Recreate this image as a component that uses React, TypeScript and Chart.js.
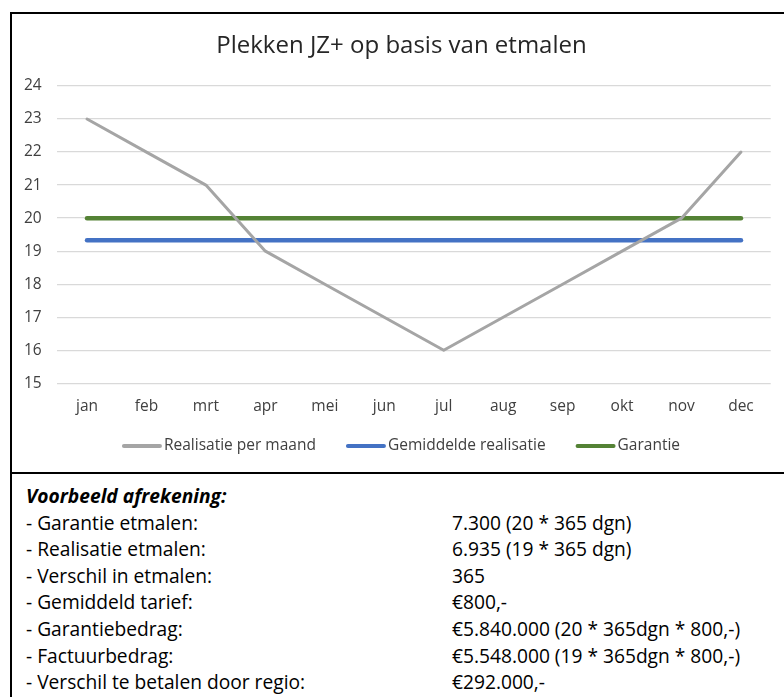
import React, { useEffect, useRef } from "react";
import { Chart, registerables } from "chart.js";

Chart.register(...registerables);

const TITLE = "Plekken JZ+ op basis van etmalen";
const months = ["jan", "feb", "mrt", "apr", "mei", "jun", "jul", "aug", "sep", "okt", "nov", "dec"];
const realisatie = [23, 22, 21, 19, 18, 17, 16, 17, 18, 19, 20, 22];
const gemiddelde = [19.33, 19.33, 19.33, 19.33, 19.33, 19.33, 19.33, 19.33, 19.33, 19.33, 19.33, 19.33];
const garantie = [20, 20, 20, 20, 20, 20, 20, 20, 20, 20, 20, 20];
const yMin = 15;
const yMax = 24;
const seriesNames = ["Realisatie per maand", "Gemiddelde realisatie", "Garantie"];

const tableHeading = "Voorbeeld afrekening:";
const tableLabels = [
  "- Garantie etmalen:",
  "- Realisatie etmalen:",
  "- Verschil in etmalen:",
  "- Gemiddeld tarief:",
  "- Garantiebedrag:",
  "- Factuurbedrag:",
  "- Verschil te betalen door regio:",
];
const tableValues = [
  "7.300 (20 * 365 dgn)",
  "6.935 (19 * 365 dgn)",
  "365",
  "€800,-",
  "€5.840.000 (20 * 365dgn * 800,-)",
  "€5.548.000 (19 * 365dgn * 800,-)",
  "€292.000,-",
];

const FONT = "'Open Sans', sans-serif";
const TICK_SIZE = 15.5;
const LEGEND_SIZE = 15.5;
const TITLE_SIZE = 24;
const TEXT_COLOR = "#404040";

const lineLegend = {
  id: "lineLegend",
  afterDraw(chart: any) {
    const ctx = chart.ctx;
    const dsets = chart.data.datasets;
    ctx.save();
    ctx.font = `${LEGEND_SIZE}px ${FONT}`;
    const lineW = 40;
    const gap = 2;
    const spacing = 30;
    const widths = dsets.map((d: any) => lineW + gap + ctx.measureText(d.label).width);
    const total = widths.reduce((a: number, b: number) => a + b, 0) + spacing * (dsets.length - 1);
    let x = chart.width / 2 + 3 - total / 2;
    const y = chart.height - 26;
    dsets.forEach((d: any, i: number) => {
      ctx.strokeStyle = d.borderColor;
      ctx.lineWidth = 4;
      ctx.lineCap = "round";
      ctx.beginPath();
      ctx.moveTo(x + 2, y);
      ctx.lineTo(x + lineW - 2, y);
      ctx.stroke();
      ctx.fillStyle = TEXT_COLOR;
      ctx.textBaseline = "middle";
      ctx.textAlign = "left";
      ctx.fillText(d.label, x + lineW + gap, y);
      x += widths[i] + spacing;
    });
    ctx.restore();
  },
};

export default function App() {
  const canvasRef = useRef<HTMLCanvasElement | null>(null);

  useEffect(() => {
    document.body.style.overflow = "hidden";
    const canvas = canvasRef.current;
    if (!canvas) return;
    const chart = new Chart(canvas, {
      type: "line",
      data: {
        labels: months,
        datasets: [
          {
            label: seriesNames[0],
            data: realisatie,
            borderColor: "#A5A5A5",
            backgroundColor: "#A5A5A5",
            borderWidth: 3,
            pointRadius: 0,
            tension: 0,
            borderJoinStyle: "round",
            borderCapStyle: "round",
          },
          {
            label: seriesNames[1],
            data: gemiddelde,
            borderColor: "#4472C4",
            backgroundColor: "#4472C4",
            borderWidth: 4.5,
            pointRadius: 0,
            borderCapStyle: "round",
          },
          {
            label: seriesNames[2],
            data: garantie,
            borderColor: "#548235",
            backgroundColor: "#548235",
            borderWidth: 4.5,
            pointRadius: 0,
            borderCapStyle: "round",
          },
        ],
      },
      options: {
        responsive: false,
        animation: false,
        layout: { padding: { top: 0, left: 0, right: -7, bottom: 40 } },
        plugins: {
          legend: { display: false },
          tooltip: { enabled: false },
          title: {
            display: true,
            text: TITLE,
            color: "#262626",
            font: { family: FONT, size: TITLE_SIZE, weight: "normal" },
            padding: { top: 17.6, bottom: 25.6 },
          },
        },
        scales: {
          x: {
            offset: true,
            grid: { display: false, drawTicks: false },
            border: { display: false },
            ticks: { color: TEXT_COLOR, font: { family: FONT, size: TICK_SIZE }, padding: 14, maxRotation: 0, autoSkip: false },
            afterFit: (s: any) => {
              s.height = 48.7;
            },
          },
          y: {
            min: yMin,
            max: yMax,
            ticks: { stepSize: 1, color: TEXT_COLOR, font: { family: FONT, size: TICK_SIZE }, padding: 15.6 },
            grid: { color: "#D9D9D9", lineWidth: 1.3, drawTicks: false },
            border: { display: false },
            afterFit: (s: any) => {
              s.width = 45.3;
            },
          },
          yRight: {
            position: "right",
            min: yMin,
            max: yMax,
            ticks: { display: false },
            grid: { display: false, drawTicks: false },
            border: { display: false },
            afterFit: (s: any) => {
              s.width = 20.3;
            },
          },
        },
      },
      plugins: [lineLegend],
    });
    return () => chart.destroy();
  }, []);

  const textStyle: React.CSSProperties = {
    fontFamily: FONT,
    fontSize: 19.2,
    lineHeight: "26.6px",
    color: "#000",
    whiteSpace: "nowrap",
  };

  return (
    <div
      style={{
        position: "absolute",
        left: 10,
        top: 12,
        width: 772,
        borderTop: "2px solid #000",
        borderLeft: "2px solid #000",
        background: "#fff",
      }}
    >
      <div style={{ width: 772, height: 458 }}>
        <canvas ref={canvasRef} width={772} height={458} style={{ display: "block" }} />
      </div>
      <div style={{ borderTop: "2px solid #000", paddingTop: 9, paddingLeft: 14, height: 220, ...textStyle }}>
        <div style={{ fontWeight: "bold", fontStyle: "italic" }}>{tableHeading}</div>
        {tableLabels.map((lab, i) => (
          <div key={i} style={{ display: "flex" }}>
            <div style={{ width: 426 }}>{lab}</div>
            <div>{tableValues[i]}</div>
          </div>
        ))}
      </div>
    </div>
  );
}
